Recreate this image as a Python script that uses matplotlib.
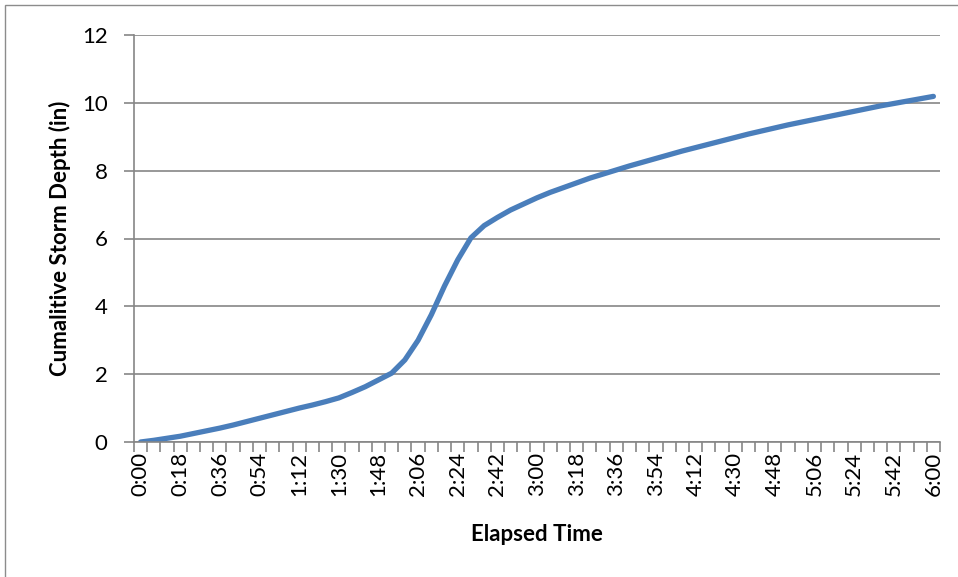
import numpy as np
import matplotlib.pyplot as plt
from matplotlib.patches import Rectangle

# elapsed time, one category every 6 minutes
times = ['%d:%02d' % divmod(m, 60) for m in range(0, 361, 6)]

depth = [0.00, 0.05, 0.11, 0.17, 0.25, 0.33, 0.41, 0.50, 0.60, 0.70,
         0.80, 0.90, 1.00, 1.09, 1.19, 1.30, 1.46, 1.63, 1.83, 2.03,
         2.42, 3.00, 3.75, 4.60, 5.37, 6.02, 6.38, 6.62, 6.84, 7.02,
         7.20, 7.36, 7.50, 7.64, 7.78, 7.90, 8.02, 8.14, 8.25, 8.36,
         8.47, 8.58, 8.68, 8.78, 8.88, 8.98, 9.08, 9.17, 9.26, 9.35,
         9.43, 9.51, 9.59, 9.67, 9.75, 9.83, 9.91, 9.98, 10.05, 10.12,
         10.19]

y_ticks = [0, 2, 4, 6, 8, 10, 12]

font = ['Lato', 'DejaVu Sans']
plt.rcParams['font.family'] = font

fig = plt.figure(figsize=(9.58, 5.77), dpi=100)
fig.patches.append(Rectangle((5 / 958, -0.1), 1.2, (577 - 5) / 577 + 0.1,
                             transform=fig.transFigure, fill=False,
                             edgecolor='#8c8c8c', linewidth=1.0))

ax = fig.add_axes([134 / 958, 1 - 442 / 577, 806 / 958, 407 / 577])
x = np.arange(len(times))
ax.plot(x, depth, color='#4a7ebb', linewidth=3.8, solid_capstyle='round')

ax.set_xlim(-0.5, len(times) - 0.5)
ax.set_ylim(0, 12)
ax.set_yticks(y_ticks)
ax.set_yticklabels([str(v) for v in y_ticks], fontsize=16)
ax.grid(axis='y', color='#868686', linewidth=1.2)
ax.set_axisbelow(True)

# labels every 18 minutes, tick marks between each category
ax.set_xticks(x[::3])
ax.set_xticklabels(times[::3], rotation=90, fontsize=16)
ax.set_xticks(np.arange(-0.5, len(times), 1), minor=True)
ax.tick_params(axis='x', which='major', length=0, pad=7)
ax.tick_params(axis='x', which='minor', length=7, color='#868686', width=1.2)
ax.tick_params(axis='y', length=7, color='#868686', width=1.2, pad=12)

for s in ['top', 'right']:
    ax.spines[s].set_visible(False)
for s in ['left', 'bottom']:
    ax.spines[s].set_color('#868686')
    ax.spines[s].set_linewidth(1.2)

ax.set_xlabel('Elapsed Time', fontsize=16, fontweight='bold', labelpad=20)
ax.set_ylabel('Cumalitive Storm Depth (in)', fontsize=16, fontweight='bold', labelpad=8)

fig.savefig('out.png', dpi=100)
